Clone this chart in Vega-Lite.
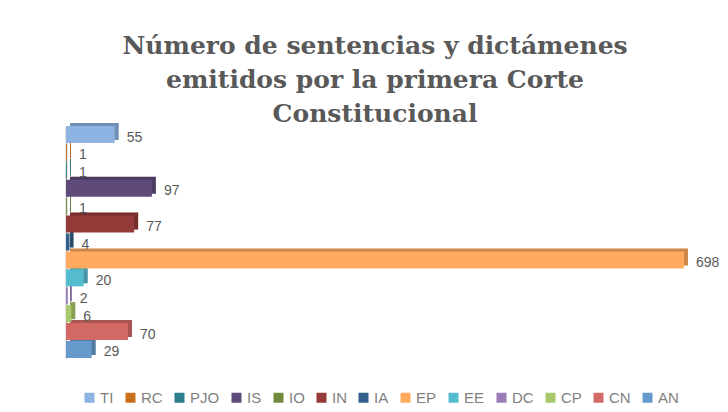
{
  "$schema": "https://vega.github.io/schema/vega-lite/v6.json",
  "width": 618,
  "height": 232,
  "autosize": {"type": "none"},
  "padding": {"left": 66, "top": 126, "right": 44, "bottom": 54},
  "background": "white",
  "title": {
    "text": ["Número de sentencias y dictámenes", "emitidos por la primera Corte", "Constitucional"],
    "font": "DejaVu Serif",
    "fontSize": 25,
    "fontWeight": "bold",
    "color": "#595959",
    "lineHeight": 34,
    "anchor": "middle",
    "offset": -4
  },
  "data": {
    "values": [
      {"cat": "TI", "value": 55},
      {"cat": "RC", "value": 1},
      {"cat": "PJO", "value": 1},
      {"cat": "IS", "value": 97},
      {"cat": "IO", "value": 1},
      {"cat": "IN", "value": 77},
      {"cat": "IA", "value": 4},
      {"cat": "EP", "value": 698},
      {"cat": "EE", "value": 20},
      {"cat": "DC", "value": 2},
      {"cat": "CP", "value": 6},
      {"cat": "CN", "value": 70},
      {"cat": "AN", "value": 29}
    ]
  },
  "encoding": {
    "y": {
      "field": "cat",
      "type": "nominal",
      "sort": null,
      "scale": {"paddingInner": 0.05, "paddingOuter": 0},
      "axis": {"labels": false, "ticks": false, "title": null, "domainColor": "#C8C8C8", "domainWidth": 2, "grid": false}
    },
    "x": {
      "field": "value",
      "type": "quantitative",
      "scale": {"domain": [0, 698], "nice": false},
      "axis": null
    }
  },
  "layer": [
    {
      "mark": {"type": "bar", "xOffset": 4, "yOffset": -3},
      "encoding": {
        "color": {
          "field": "cat",
          "type": "nominal",
          "sort": null,
          "scale": {
            "domain": ["TI", "RC", "PJO", "IS", "IO", "IN", "IA", "EP", "EE", "DC", "CP", "CN", "AN"],
            "range": ["#8DB3E2", "#C9701E", "#2B7F8F", "#5F4B7A", "#6F8A3C", "#943A38", "#335F8A", "#FFAA5E", "#55BCD0", "#9A7DB8", "#A8C86C", "#D36965", "#6699CC"]
          },
          "legend": {
            "title": null,
            "orient": "none",
            "legendX": 16,
            "legendY": 264,
            "direction": "horizontal",
            "columns": 13,
            "symbolType": "square",
            "symbolSize": 100,
            "symbolStrokeWidth": 0,
            "labelFont": "Liberation Sans",
            "labelFontSize": 15,
            "labelColor": "#7F7F7F",
            "labelOffset": 3,
            "columnPadding": 9
          }
        }
      }
    },
    {
      "mark": {"type": "bar", "xOffset": 4, "yOffset": -3, "color": "black", "opacity": 0.2},
      "encoding": {}
    },
    {
      "mark": {"type": "bar"},
      "encoding": {
        "color": {"field": "cat", "type": "nominal", "sort": null}
      }
    },
    {
      "mark": {"type": "text", "align": "left", "dx": 12, "dy": 3, "font": "Liberation Sans", "fontSize": 14, "color": "#595959"},
      "encoding": {"text": {"field": "value", "type": "quantitative"}}
    }
  ],
  "config": {"view": {"stroke": null}}
}
